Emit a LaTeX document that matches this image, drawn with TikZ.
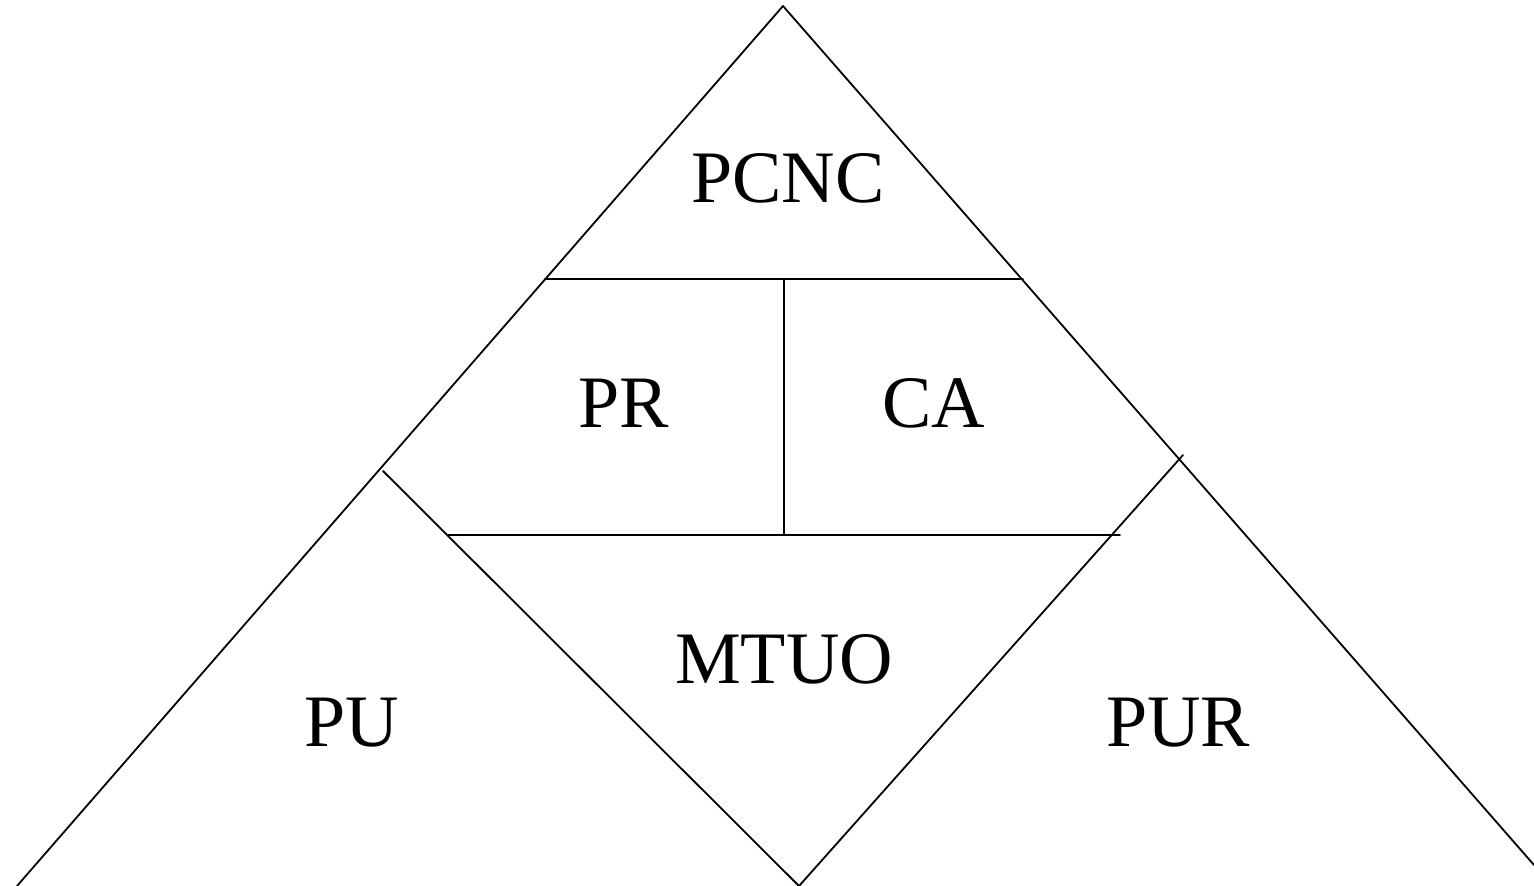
\documentclass[tikz,border=0pt]{standalone}
\usepackage{fontspec}
\setmainfont{Liberation Serif}
\begin{document}
\begin{tikzpicture}[x=0.5pt, y=-0.5pt, line width=0.9pt, line join=round, line cap=round,
	lbl/.style={anchor=base, inner sep=0pt, font=\fontsize{37}{40}\selectfont}]
	\useasboundingbox (0,0) rectangle (1534,886);
	% outer triangle
	\coordinate (top) at (783,6);
	\coordinate (botL) at (17,886);
	\coordinate (botR) at (1534,865);
	\draw (botL)--(top)--(botR);
	% inner lines
	\coordinate (h1L) at (545,279);
	\coordinate (h1R) at (1023,279);
	\coordinate (h1M) at (784,279);
	\coordinate (h2L) at (448,535);
	\coordinate (h2R) at (1120,535);
	\coordinate (h2M) at (784,535);
	\coordinate (dL) at (383,471);
	\coordinate (dR) at (1183,455);
	\coordinate (dB) at (799,886);
	\draw (h1L)--(h1R);
	\draw (h1M)--(h2M);
	\draw (h2L)--(h2R);
	\draw (dL)--(dB)--(dR);
	% labels
	\node[lbl] (pcnc) at (788,203) {PCNC};
	\node[lbl] (pr) at (624,428) {PR};
	\node[lbl] (ca) at (934,428) {CA};
	\node[lbl] (mtuo) at (784,683) {MTUO};
	\node[lbl] (pu) at (352,746) {PU};
	\node[lbl] (pur) at (1178,746) {PUR};
\end{tikzpicture}
\end{document}
